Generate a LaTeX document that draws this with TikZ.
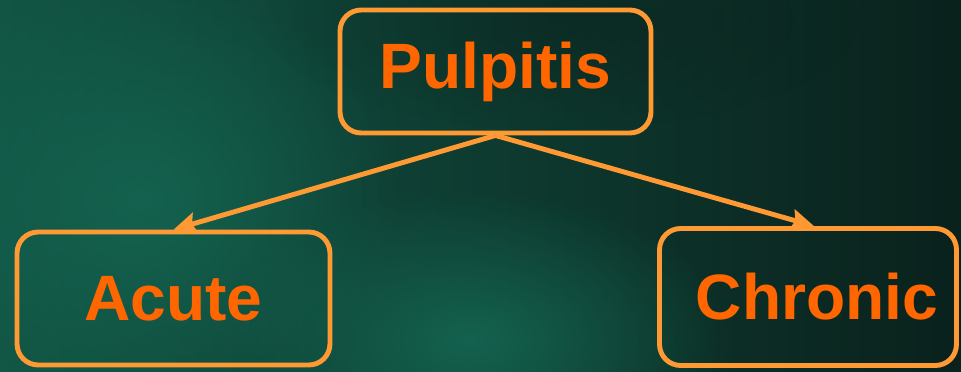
\documentclass[tikz,border=0pt]{standalone}
\usepackage{fontspec}
\setmainfont{Liberation Sans}
\usetikzlibrary{arrows.meta,fadings}
\definecolor{boxline}{HTML}{FF9933}
\definecolor{boxtext}{HTML}{FF6600}
\definecolor{bgdark}{HTML}{0A211C}
\definecolor{bglight}{HTML}{14624F}
\tikzfading[name=glow, inner color=transparent!0, outer color=transparent!100]
\tikzset{
  kind/.style={draw=boxline, line width=2.8pt, rounded corners=12pt,
    text=boxtext, font=\bfseries\fontsize{36.5}{40}\selectfont},
  link/.style={draw=boxline, line width=2.8pt,
    -{Stealth[length=13pt,width=12pt,inset=2pt]}}
}
\begin{document}
\begin{tikzpicture}[x=0.02cm,y=-0.02cm]
  \useasboundingbox (0,0) rectangle (961,372);
  % background
  \shade[left color=bglight!80!bgdark, right color=bgdark] (0,0) rectangle (961,372);
  \fill[bglight, path fading=glow] (140,200) ellipse (260 and 230);
  \fill[bglight, path fading=glow] (470,340) ellipse (260 and 150);
  \fill[bgdark, opacity=.5, path fading=glow] (560,20) ellipse (300 and 110);
  % boxes
  \draw
    (495.5,71.5) node[kind, minimum width=6.22cm, minimum height=2.46cm] (p){Pulpitis}
    (173.5,298.5) node[kind, minimum width=6.26cm, minimum height=2.66cm] (a){Acute}
    (808,297) node[kind, minimum width=5.94cm, minimum height=2.74cm] (c){\hspace*{0.36cm}Chronic};
  \begin{scope}[link]
    \draw (p.south) to (a.north);
    \draw (p.south) to ([xshift=0.12cm]c.north);
  \end{scope}
\end{tikzpicture}
\end{document}
